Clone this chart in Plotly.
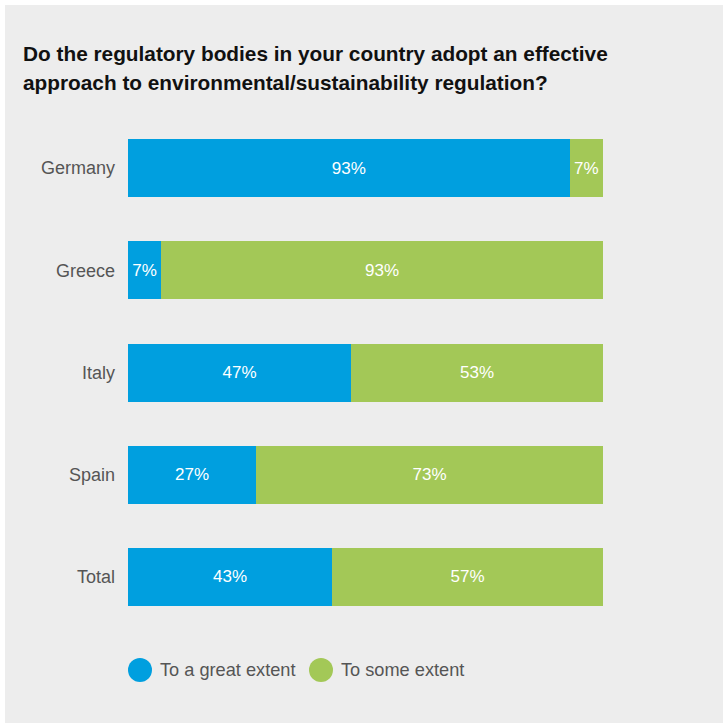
import plotly.graph_objects as go

# Survey results: share of respondents per country
countries = ["Germany", "Greece", "Italy", "Spain", "Total"]
great_extent = [93, 7, 47, 27, 43]
some_extent = [7, 93, 53, 73, 57]
series_names = ["To a great extent", "To some extent"]
title_lines = [
    "Do the regulatory bodies in your country adopt an effective",
    "approach to environmental/sustainability regulation?",
]

BLUE = "#009fdf"
GREEN = "#a3c857"
PANEL = "#ededed"
LABEL = "#555555"
FONT = "Liberation Sans, Arial, sans-serif"

W, H = 725, 724
L, R, T, B = 128, 122, 117, 96
PW, PH = W - L - R, H - T - B


def fx(px):
    return (px - L) / PW


def fy(py):
    return (H - B - py) / PH


fig = go.Figure()
for vals, name, color in [(great_extent, series_names[0], BLUE),
                          (some_extent, series_names[1], GREEN)]:
    fig.add_trace(go.Bar(
        y=countries, x=vals, name=name, orientation="h",
        marker=dict(color=color, line=dict(width=0)),
        text=[f"{v}%" for v in vals],
        textposition="inside", insidetextanchor="middle", textangle=0,
        textfont=dict(color="white", size=17, family=FONT),
        showlegend=False, hoverinfo="skip",
    ))

shapes = [dict(type="rect", xref="paper", yref="paper", layer="below",
               x0=fx(5), x1=fx(723), y0=fy(723), y1=fy(5),
               fillcolor=PANEL, line=dict(width=0))]

annotations = []
for i, line in enumerate(title_lines):
    annotations.append(dict(
        text=f"<b>{line}</b>", xref="paper", yref="paper",
        x=fx(21), y=fy(53 + 29.5 * i), xanchor="left", yanchor="middle",
        showarrow=False, font=dict(size=20.8, color="#111111", family=FONT),
    ))

# legend drawn as circles with labels beneath the bars
legend_x = [140, 321]
for cx, name, color in zip(legend_x, series_names, [BLUE, GREEN]):
    shapes.append(dict(type="circle", xref="paper", yref="paper",
                       x0=fx(cx - 12), x1=fx(cx + 12),
                       y0=fy(682), y1=fy(658),
                       fillcolor=color, line=dict(width=0)))
    annotations.append(dict(
        text=name, xref="paper", yref="paper",
        x=fx(cx + 18), y=fy(670), xanchor="left", yanchor="middle",
        showarrow=False, font=dict(size=18.2, color=LABEL, family=FONT),
    ))

fig.update_layout(
    width=W, height=H,
    margin=dict(l=L, r=R, t=T, b=B, pad=0),
    barmode="stack", bargap=1 - 58 / 102.2,
    paper_bgcolor="white", plot_bgcolor="rgba(0,0,0,0)",
    shapes=shapes, annotations=annotations,
    xaxis=dict(range=[0, 100], visible=False, fixedrange=True),
    yaxis=dict(autorange="reversed", showgrid=False, zeroline=False,
               showline=False, ticks="", ticklabelstandoff=12,
               tickfont=dict(size=18, color=LABEL, family=FONT)),
)

fig.write_html("out.html")
